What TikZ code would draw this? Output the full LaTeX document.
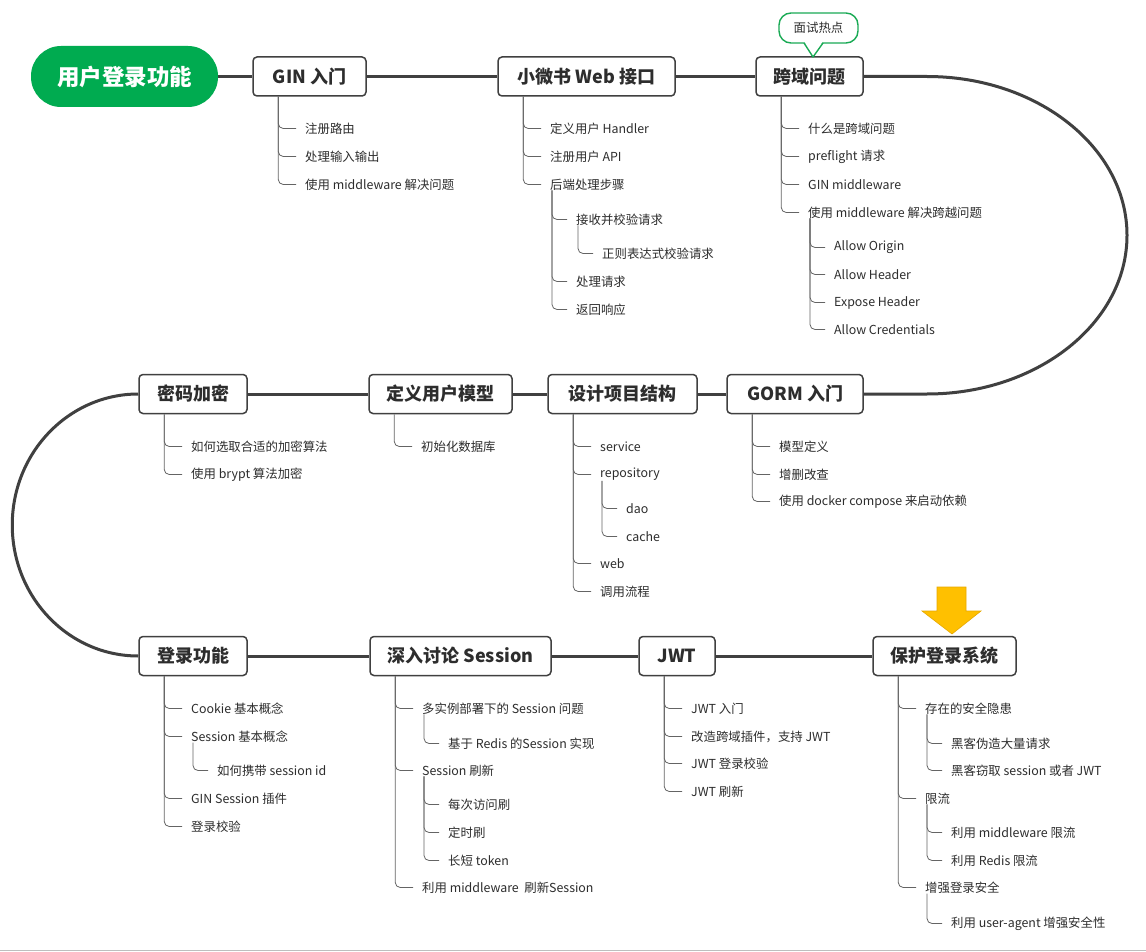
\documentclass[tikz,border=0pt]{standalone}
\usepackage{fontspec}
\setmainfont{Noto Sans CJK SC}
\definecolor{rootgreen}{RGB}{0,171,80}
\definecolor{calloutgreen}{RGB}{26,170,85}
\definecolor{linegray}{RGB}{64,64,64}
\definecolor{subgray}{RGB}{100,100,100}
\definecolor{txtgray}{RGB}{45,45,45}
\definecolor{arroworange}{RGB}{255,192,0}
\definecolor{arrowedge}{RGB}{230,168,0}
\definecolor{bottomgray}{RGB}{190,190,190}
\tikzset{
  topic/.style={draw=linegray, line width=1.5pt, rounded corners=4pt, fill=white,
    minimum height=39pt, inner sep=0pt, text=txtgray,
    font=\fontsize{18}{21}\selectfont\bfseries},
  item/.style={anchor=west, inner sep=0pt, text=txtgray, font=\fontsize{12.4}{14}\selectfont},
  mainline/.style={draw=linegray, line width=3pt},
  subline/.style={draw=subgray, line width=0.8pt, rounded corners=5pt},
}
\newcommand{\itm}[4]{\node[item] (#1) at (#2,#3) {#4};}
\begin{document}
\begin{tikzpicture}[x=1pt,y=-1pt]
\useasboundingbox (0,0) rectangle (1146,952);
\fill[white] (0,0) rectangle (1146,952);
\coordinate (bl) at (0,950.5);
\coordinate (br) at (1146,950.5);
\draw[line width=1.5pt, draw=bottomgray] (bl) -- (br);

% ---------- main topics ----------
\node[fill=rootgreen, rounded corners=30pt, minimum width=187pt, minimum height=61pt, inner sep=0pt,
  text=white, font=\fontsize{22.5}{26}\selectfont\bfseries] (root) at (124.5,76.5) {用户登录功能};
\node[topic, minimum width=113pt] (gin) at (309.5,76.5) {GIN 入门};
\node[topic, minimum width=177pt] (xws) at (586.5,76.5) {小微书 Web 接口};
\node[topic, minimum width=107pt] (kuayu) at (809.5,76.5) {跨域问题};

\node[topic, minimum width=108pt] (mima) at (193,394) {密码加密};
\node[topic, minimum width=143pt] (dingyi) at (440.5,394) {定义用户模型};
\node[topic, minimum width=149pt] (sheji) at (622.5,394) {设计项目结构};
\node[topic, minimum width=136pt] (gorm) at (795,394) {GORM 入门};

\node[topic, minimum width=108pt] (denglu) at (193,656) {登录功能};
\node[topic, minimum width=181pt] (shenru) at (460.5,656) {深入讨论 Session};
\node[topic, minimum width=76pt] (jwt) at (677,656) {JWT};
\node[topic, minimum width=143pt] (baohu) at (944.5,656) {保护登录系统};

% ---------- callout ----------
\draw[draw=calloutgreen, line width=1.4pt, fill=white, rounded corners=12pt] (779,13) rectangle (858,43);
\fill[white] (804,41.2) -- (823,41.2) -- (813,55.5) -- cycle;
\node[inner sep=0pt, text=txtgray, font=\fontsize{12.4}{14}\selectfont] (callout) at (818.5,28) {面试热点};
\coordinate (tl) at (804,43);
\coordinate (tr) at (823,43);
\coordinate (tip) at (813,57);
\draw[draw=calloutgreen, line width=1.4pt, line join=round] (tl) -- (tip) -- (tr);

% ---------- orange arrow ----------
\draw[fill=arroworange, draw=arrowedge, line width=0.6pt]
  (937,587) -- (966,587) -- (966,611) -- (981,611) -- (952,634) -- (922,611) -- (937,611) -- cycle;

% ---------- main connectors ----------
\coordinate (r1) at (927,76.5);
\draw[mainline] (root.east) -- (gin.west);
\draw[mainline] (gin.east) -- (xws.west);
\draw[mainline] (xws.east) -- (kuayu.west);
\draw[mainline] (kuayu.east) -- (r1) arc[start angle=-90, end angle=90, x radius=200, y radius=158.75] -- (gorm.east);
\draw[mainline] (gorm.west) -- (sheji.east);
\draw[mainline] (sheji.west) -- (dingyi.east);
\draw[mainline] (dingyi.west) -- (mima.east);
\draw[mainline] (mima.west) arc[start angle=-90, end angle=-270, x radius=126, y radius=131] -- (denglu.west);
\draw[mainline] (denglu.east) -- (shenru.west);
\draw[mainline] (shenru.east) -- (jwt.west);
\draw[mainline] (jwt.east) -- (baohu.west);

% ---------- items: GIN ----------
\itm{g1}{305}{128.5}{注册路由}
\itm{g2}{305}{156.5}{处理输入输出}
\itm{g3}{305}{184.5}{使用 middleware 解决问题}
\foreach \c in {g1,g2,g3} \draw[subline] ([xshift=26pt]gin.south west) |- ([xshift=-9pt]\c.west);

% ---------- items: 小微书 ----------
\itm{w1}{550}{128.5}{定义用户 Handler}
\itm{w2}{550}{156.5}{注册用户 API}
\itm{w3}{550}{184.5}{后端处理步骤}
\foreach \c in {w1,w2,w3} \draw[subline] ([xshift=26pt]xws.south west) |- ([xshift=-9pt]\c.west);
\itm{w31}{576}{219.5}{接收并校验请求}
\itm{w32}{576}{281.5}{处理请求}
\itm{w33}{576}{309.5}{返回响应}
\foreach \c in {w31,w32,w33} \draw[subline] ([xshift=2pt]w3.south west) |- ([xshift=-9pt]\c.west);
\itm{w311}{602}{253.5}{正则表达式校验请求}
\draw[subline] ([xshift=2pt]w31.south west) |- ([xshift=-9pt]w311.west);

% ---------- items: 跨域 ----------
\itm{k1}{808}{128.5}{什么是跨域问题}
\itm{k2}{808}{156.5}{preflight 请求}
\itm{k3}{808}{184.5}{GIN middleware}
\itm{k4}{808}{212.5}{使用 middleware 解决跨越问题}
\foreach \c in {k1,k2,k3,k4} \draw[subline] ([xshift=26pt]kuayu.south west) |- ([xshift=-9pt]\c.west);
\itm{k41}{834}{247.5}{Allow Origin}
\itm{k42}{834}{274.5}{Allow Header}
\itm{k43}{834}{302.5}{Expose Header}
\itm{k44}{834}{329.5}{Allow Credentials}
\foreach \c in {k41,k42,k43,k44} \draw[subline] ([xshift=2pt]k4.south west) |- ([xshift=-9pt]\c.west);

% ---------- items: 密码加密 ----------
\itm{m1}{191}{446.5}{如何选取合适的加密算法}
\itm{m2}{191}{474.5}{使用 brypt 算法加密}
\foreach \c in {m1,m2} \draw[subline] ([xshift=26pt]mima.south west) |- ([xshift=-9pt]\c.west);

% ---------- items: 定义用户模型 ----------
\itm{d1}{421}{446.5}{初始化数据库}
\draw[subline] ([xshift=26pt]dingyi.south west) |- ([xshift=-9pt]d1.west);

% ---------- items: 设计项目结构 ----------
\itm{s1}{600}{446.5}{service}
\itm{s2}{600}{474.5}{repository}
\itm{s3}{600}{563.5}{web}
\itm{s4}{600}{591.5}{调用流程}
\foreach \c in {s1,s2,s3,s4} \draw[subline] ([xshift=26pt]sheji.south west) |- ([xshift=-9pt]\c.west);
\itm{s21}{626}{508.5}{dao}
\itm{s22}{626}{536.5}{cache}
\foreach \c in {s21,s22} \draw[subline] ([xshift=2pt]s2.south west) |- ([xshift=-9pt]\c.west);

% ---------- items: GORM ----------
\itm{o1}{779}{446.5}{模型定义}
\itm{o2}{779}{474.5}{增删改查}
\itm{o3}{779}{501.5}{使用 docker compose 来启动依赖}
\foreach \c in {o1,o2,o3} \draw[subline] ([xshift=26pt]gorm.south west) |- ([xshift=-9pt]\c.west);

% ---------- items: 登录功能 ----------
\itm{l1}{191}{708.5}{Cookie 基本概念}
\itm{l2}{191}{736.5}{Session 基本概念}
\itm{l3}{191}{798.5}{GIN Session 插件}
\itm{l4}{191}{826.5}{登录校验}
\foreach \c in {l1,l2,l3,l4} \draw[subline] ([xshift=26pt]denglu.south west) |- ([xshift=-9pt]\c.west);
\itm{l21}{217}{770.5}{如何携带 session id}
\draw[subline] ([xshift=2pt]l2.south west) |- ([xshift=-9pt]l21.west);

% ---------- items: 深入讨论 Session ----------
\itm{n1}{422}{708.5}{多实例部署下的 Session 问题}
\itm{n2}{422}{770.5}{Session 刷新}
\itm{n3}{422}{887.5}{利用 middleware\ \ 刷新Session}
\foreach \c in {n1,n2,n3} \draw[subline] ([xshift=26pt]shenru.south west) |- ([xshift=-9pt]\c.west);
\itm{n11}{448}{743.5}{基于 Redis 的Session 实现}
\draw[subline] ([xshift=2pt]n1.south west) |- ([xshift=-9pt]n11.west);
\itm{n21}{448}{804.5}{每次访问刷}
\itm{n22}{448}{832.5}{定时刷}
\itm{n23}{448}{860.5}{长短 token}
\foreach \c in {n21,n22,n23} \draw[subline] ([xshift=2pt]n2.south west) |- ([xshift=-9pt]\c.west);

% ---------- items: JWT ----------
\itm{j1}{691}{708.5}{JWT 入门}
\itm{j2}{691}{736.5}{改造跨域插件，支持 JWT}
\itm{j3}{691}{763.5}{JWT 登录校验}
\itm{j4}{691}{791.5}{JWT 刷新}
\foreach \c in {j1,j2,j3,j4} \draw[subline] ([xshift=26pt]jwt.south west) |- ([xshift=-9pt]\c.west);

% ---------- items: 保护登录系统 ----------
\itm{b1}{925}{708.5}{存在的安全隐患}
\itm{b2}{925}{798.5}{限流}
\itm{b3}{925}{887.5}{增强登录安全}
\foreach \c in {b1,b2,b3} \draw[subline] ([xshift=26pt]baohu.south west) |- ([xshift=-9pt]\c.west);
\itm{b11}{951}{743.5}{黑客伪造大量请求}
\itm{b12}{951}{770.5}{黑客窃取 session 或者 JWT}
\foreach \c in {b11,b12} \draw[subline] ([xshift=2pt]b1.south west) |- ([xshift=-9pt]\c.west);
\itm{b21}{951}{832.5}{利用 middleware 限流}
\itm{b22}{951}{860.5}{利用 Redis 限流}
\foreach \c in {b21,b22} \draw[subline] ([xshift=2pt]b2.south west) |- ([xshift=-9pt]\c.west);
\itm{b31}{951}{923.5}{利用 user-agent 增强安全性}
\draw[subline] ([xshift=2pt]b3.south west) |- ([xshift=-9pt]b31.west);
\end{tikzpicture}
\end{document}
